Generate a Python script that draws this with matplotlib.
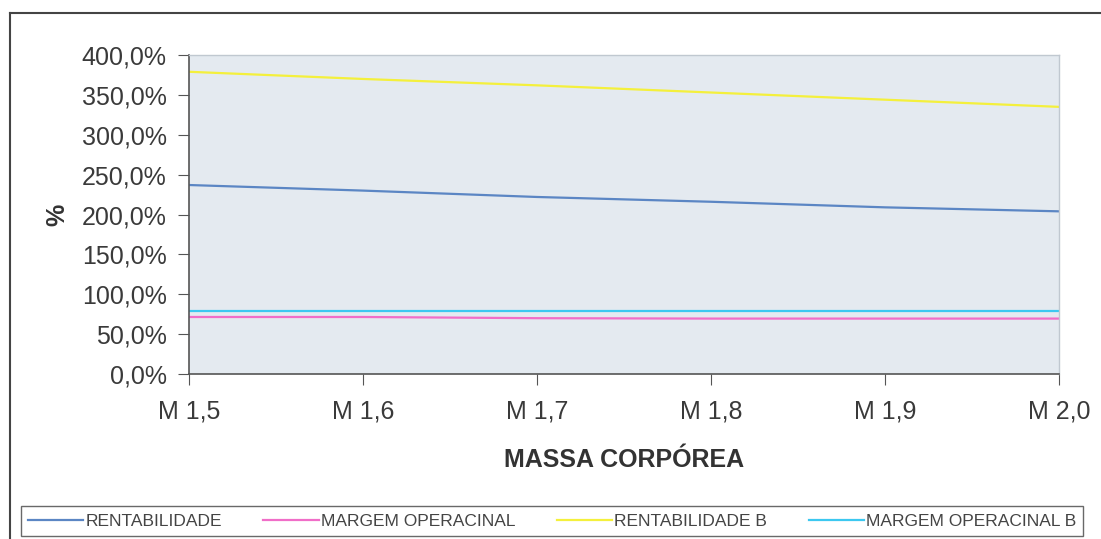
import matplotlib.pyplot as plt
from matplotlib.lines import Line2D
from matplotlib.ticker import FuncFormatter

# categories and series (%)
categorias = ["M 1,5", "M 1,6", "M 1,7", "M 1,8", "M 1,9", "M 2,0"]
rentabilidade = [237, 230, 222, 216, 209, 204]
margem_operacinal = [71.5, 71.5, 70, 69.5, 69.5, 69.5]
rentabilidade_b = [379, 370, 362, 353, 344, 335]
margem_operacinal_b = [79, 79, 79, 79, 79, 79]

plt.rcParams['font.family'] = ['Liberation Sans', 'DejaVu Sans']

fig = plt.figure(figsize=(11.01, 5.39), dpi=100)
fig.patch.set_facecolor('white')
ax = fig.add_axes([0.1717, 0.3061, 0.7902, 0.5918])
ax.set_facecolor('#e4eaf0')

x = range(len(categorias))
ax.plot(x, rentabilidade, color='#5b86c4', lw=1.6, label='RENTABILIDADE')
ax.plot(x, margem_operacinal, color='#f06ec8', lw=1.6, label='MARGEM OPERACINAL')
ax.plot(x, rentabilidade_b, color='#f4f03c', lw=1.6, label='RENTABILIDADE B')
ax.plot(x, margem_operacinal_b, color='#3cc8f0', lw=1.6, label='MARGEM OPERACINAL B')

ax.set_xlim(0, len(categorias) - 1)
ax.set_ylim(0, 400)
ax.set_yticks(range(0, 401, 50))
ax.yaxis.set_major_formatter(FuncFormatter(lambda v, p: f"{v:.1f}%".replace('.', ',')))
ax.set_xticks(list(x))
ax.set_xticklabels(categorias)

for s in ['left', 'bottom']:
    ax.spines[s].set_color('#555555')
    ax.spines[s].set_linewidth(1.2)
for s in ['top', 'right']:
    ax.spines[s].set_color('#c0c8d0')
    ax.spines[s].set_linewidth(1.0)

ax.tick_params(axis='both', direction='out', length=8, color='#555555',
               labelsize=18, labelcolor='#3a3a3a')
ax.tick_params(axis='x', pad=10)
ax.tick_params(axis='y', pad=8)

ax.set_xlabel('MASSA CORPÓREA', fontsize=18, fontweight='bold', color='#333333', labelpad=18)
ax.set_ylabel('%', fontsize=18, fontweight='bold', color='#333333', labelpad=9)

# outer chart frame (top and left edges)
fig.add_artist(Line2D([10 / 1101, 1.0], [1 - 13 / 539, 1 - 13 / 539],
                      transform=fig.transFigure, color='#444444', lw=1.5))
fig.add_artist(Line2D([10 / 1101, 10 / 1101], [0, 1 - 13 / 539],
                      transform=fig.transFigure, color='#444444', lw=1.5))

leg = fig.legend(loc='center', bbox_to_anchor=(552 / 1101, 1 - 521 / 539), ncol=4,
                 fontsize=12.5, frameon=True, fancybox=False, edgecolor='#444444',
                 handlelength=3.2, handletextpad=0.1, columnspacing=2.4,
                 borderpad=0.4, labelcolor='#444444')
leg.get_frame().set_linewidth(1.0)

fig.savefig('out.png', dpi=100)
